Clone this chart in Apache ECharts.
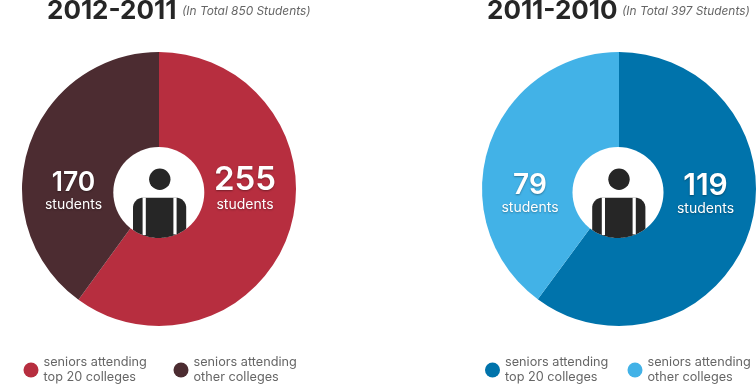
<!DOCTYPE html>
<html><head><meta charset="utf-8">
<style>html,body{margin:0;padding:0;background:#fff}#c{width:756px;height:387px}</style>
<script src="https://cdn.jsdelivr.net/npm/echarts@6/dist/echarts.min.js"></script>
</head><body><div id="c"></div>
<script>
const legendNames = ['seniors attending\ntop 20 colleges', 'seniors attending\nother colleges'];
const periods = ['2012-2011', '2011-2010'];
const totals = ['(In Total 850 Students)', '(In Total 397 Students)'];
const valuesA = [255, 170];
const valuesB = [119, 79];
const unit = 'students';

const FONT = 'Inter';
const colorsA = ['#b72e3f', '#4c2c31'];
const colorsB = ['#0073ab', '#42b2e7'];
const pieCx = [159, 619], pieCy = 189, pieR = 137;
const holeCx = [158.8, 618], holeCy = 192.5, holeR = 45.5;
const titleX = [47, 487], subX = [182, 622];
const labelPos = [[[245, 188], [73.5, 191.3]], [[705.5, 193.5], [530, 193.5]]];
const valueSize = [[33, 26.5], [30, 28]];
const legendX = [23.5, 173.5, 485, 627.5];
const INK = '#262626';

function clipY(dx) { return holeCy + Math.sqrt(holeR * holeR - dx * dx); }

function bodyPoints(hc, l, r, t, rad) {
  const pts = [];
  const N = 10;
  pts.push([l, clipY(l - hc)]);
  for (let k = 0; k <= N; k++) { const a = Math.PI / 2 * k / N; pts.push([l + rad - rad * Math.cos(a), t + rad - rad * Math.sin(a)]); }
  for (let k = 0; k <= N; k++) { const a = Math.PI / 2 * k / N; pts.push([r - rad + rad * Math.sin(a), t + rad - rad * Math.cos(a)]); }
  const M = 40;
  for (let k = 0; k <= M; k++) { const x = r + (l - r) * k / M; pts.push([x, clipY(x - hc)]); }
  return pts;
}

function person(i) {
  const hc = holeCx[i], c = hc + 0.8;
  const l = c - 26.6, r = c + 26.6, t = 197.7, rad = 10;
  const strap = (x, w) => ({
    type: 'rect', z: 13, silent: true,
    shape: { x, y: t, width: w, height: clipY(Math.max(Math.abs(x - hc), Math.abs(x + w - hc))) - t },
    style: { fill: '#fff' }
  });
  return [
    { type: 'circle', z: 10, silent: true, shape: { cx: hc, cy: holeCy, r: holeR }, style: { fill: '#fff' } },
    { type: 'circle', z: 12, silent: true, shape: { cx: c + 0.2, cy: 179.2, r: 10.7 }, style: { fill: INK } },
    { type: 'polygon', z: 12, silent: true, shape: { points: bodyPoints(hc, l, r, t, rad) }, style: { fill: INK } },
    strap(c - 17, 3.2), strap(c + 13.8, 3.2)
  ];
}

function pie(i, values, colors) {
  return {
    type: 'pie', center: [pieCx[i], pieCy], radius: [0, pieR], startAngle: 90, clockwise: true,
    silent: true, animation: false, labelLine: { show: false },
    data: values.map((v, k) => ({
      value: v, name: legendNames[k], itemStyle: { color: colors[k] },
      label: {
        show: true, position: 'inside',
        formatter: '{v|' + v + '}\n{s|' + unit + '}',
        rich: {
          v: { fontFamily: FONT, fontWeight: 600, fontSize: valueSize[i][k], lineHeight: valueSize[i][k] + 1, color: '#fff', align: 'center', textShadowColor: 'rgba(0,0,0,.35)', textShadowBlur: 2, textShadowOffsetY: 1 },
          s: { fontFamily: FONT, fontWeight: 400, fontSize: 14, lineHeight: 16, color: '#fff', align: 'center', textShadowColor: 'rgba(0,0,0,.3)', textShadowBlur: 2, textShadowOffsetY: 1 }
        }
      }
    })),
    labelLayout: p => ({ x: labelPos[i][p.dataIndex][0], y: labelPos[i][p.dataIndex][1], align: 'center', verticalAlign: 'middle' })
  };
}

const titles = [];
periods.forEach((p, i) => {
  titles.push({ text: p, left: titleX[i], top: -2, padding: 0, textStyle: { fontFamily: FONT, fontWeight: 700, fontSize: 26, color: INK } });
  titles.push({ text: totals[i], left: subX[i], top: 5, padding: 0, textStyle: { fontFamily: FONT, fontStyle: 'italic', fontWeight: 400, fontSize: 11.9, color: '#666' } });
});

const legendColors = [colorsA[0], colorsA[1], colorsB[0], colorsB[1]];
const legends = legendX.map((x, i) => ({
  left: x, top: 355, padding: 0, itemWidth: 15, itemHeight: 15, icon: 'circle', itemGap: 0, selectedMode: false,
  data: [{ name: legendNames[i % 2], itemStyle: { color: legendColors[i] } }],
  textStyle: { fontFamily: FONT, fontSize: 12.7, lineHeight: 15, color: '#666' }
}));

const chart = echarts.init(document.getElementById('c'), null, { renderer: 'canvas' });
chart.setOption({
  backgroundColor: '#fff',
  animation: false,
  title: titles,
  legend: legends,
  series: [pie(0, valuesA, colorsA), pie(1, valuesB, colorsB)],
  graphic: { elements: person(0).concat(person(1)) }
});
</script></body></html>
